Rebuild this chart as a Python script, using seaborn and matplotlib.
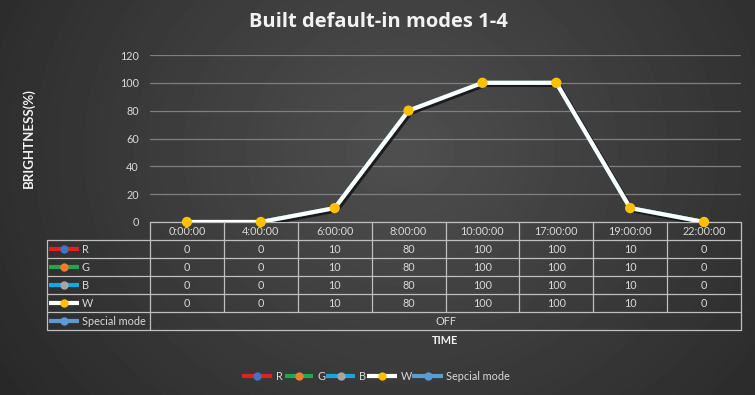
import numpy as np
import pandas as pd
import matplotlib
matplotlib.use("Agg")
import matplotlib.pyplot as plt
import matplotlib.patheffects as pe
import seaborn as sns

# ---- data ----
times = ["0:00:00", "4:00:00", "6:00:00", "8:00:00", "10:00:00", "17:00:00", "19:00:00", "22:00:00"]
r_vals = [0, 0, 10, 80, 100, 100, 10, 0]
g_vals = [0, 0, 10, 80, 100, 100, 10, 0]
b_vals = [0, 0, 10, 80, 100, 100, 10, 0]
w_vals = [0, 0, 10, 80, 100, 100, 10, 0]
special_label = "OFF"
series_names = ["R", "G", "B", "W"]
table_names = ["R", "G", "B", "W", "Special mode"]
legend_names = ["R", "G", "B", "W", "Sepcial mode"]
y_ticks = [0, 20, 40, 60, 80, 100, 120]

line_colors = {"R": "#E3201C", "G": "#1FA84F", "B": "#17A6DD", "W": "#FFFFFF", "S": "#5B9BD5"}
marker_colors = {"R": "#4472C4", "G": "#ED7D31", "B": "#A5A5A5", "W": "#FFC000", "S": "#5B9BD5"}
keys = ["R", "G", "B", "W", "S"]

sns.set_theme(style="dark")
plt.rcParams["font.family"] = ["Lato", "DejaVu Sans"]

W, H = 755, 395
fig = plt.figure(figsize=(W / 100, H / 100), dpi=100)

# background gradient
bg = fig.add_axes([0, 0, 1, 1])
yy, xx = np.mgrid[0:H, 0:W]
d = np.sqrt(((xx - 400) / 480.0) ** 2 + ((yy - 150) / 420.0) ** 2)
val = 0.31 - 0.15 * d
bg.imshow(np.clip(val, 0, 1), cmap="gray", vmin=0, vmax=1, extent=[0, W, H, 0], aspect="auto")
bg.set_xlim(0, W)
bg.set_ylim(H, 0)
bg.axis("off")

def fx(px):
    return px / W

def fy(py):
    return 1 - py / H

# plot axes
x0, x1 = 150, 741
y_top, y_bot = 55, 222
ax = fig.add_axes([fx(x0), fy(y_bot), (x1 - x0) / W, (y_bot - y_top) / H])
ax.set_facecolor("none")
df = pd.DataFrame({"time": np.arange(len(times))})
for name, vals in zip(series_names, [r_vals, g_vals, b_vals, w_vals]):
    df[name] = vals
long = df.melt(id_vars="time", var_name="series", value_name="value")
sns.lineplot(data=long, x="time", y="value", hue="series",
             palette={n: line_colors[n] for n in series_names},
             linewidth=3, legend=False, ax=ax, zorder=3,
             path_effects=[pe.SimpleLineShadow(offset=(1.5, -1.5), alpha=0.5), pe.Normal()])
sns.scatterplot(data=long[long.series == "W"], x="time", y="value", color=marker_colors["W"],
                s=55, edgecolor="none", ax=ax, zorder=4, legend=False, clip_on=False)
ax.set_xlim(-0.5, len(times) - 0.5)
ax.set_ylim(0, 120)
ax.set_yticks(y_ticks)
ax.set_yticklabels([str(t) for t in y_ticks], color="#D9D9D9", fontsize=7.8)
ax.set_xticks([])
ax.set_xlabel("")
ax.set_ylabel("")
ax.tick_params(axis="y", length=0, pad=8)
ax.grid(axis="y", color="#7F7F7F", linewidth=0.9)
ax.grid(axis="x", visible=False)
for s in ax.spines.values():
    s.set_visible(False)

# table drawn on bg axes (pixel coords)
tc = "#BFBFBF"
tx = "#D9D9D9"
fs = 7.8
lbl_x0 = 47
row_h = 18
ncol = len(times)
col_w = (x1 - x0) / ncol
rows_y = [y_bot + row_h * i for i in range(7)]  # 222 .. 330
lw = 0.9
bg.plot([x0, x1], [rows_y[0], rows_y[0]], color=tc, lw=lw)
for yv in rows_y[1:]:
    bg.plot([lbl_x0, x1], [yv, yv], color=tc, lw=lw)
for i in range(ncol + 1):
    xv = x0 + i * col_w
    if i in (0, ncol):
        bg.plot([xv, xv], [rows_y[0], rows_y[6]], color=tc, lw=lw)
    else:
        bg.plot([xv, xv], [rows_y[0], rows_y[5]], color=tc, lw=lw)
bg.plot([lbl_x0, lbl_x0], [rows_y[1], rows_y[6]], color=tc, lw=lw)

for i, t in enumerate(times):
    bg.text(x0 + (i + 0.5) * col_w, (rows_y[0] + rows_y[1]) / 2 + 0.5, t, color=tx,
            fontsize=fs, ha="center", va="center")
all_vals = [r_vals, g_vals, b_vals, w_vals]
for r, vals in enumerate(all_vals):
    yc = (rows_y[r + 1] + rows_y[r + 2]) / 2 + 0.5
    for i, v in enumerate(vals):
        bg.text(x0 + (i + 0.5) * col_w, yc, str(v), color=tx, fontsize=fs, ha="center", va="center")
bg.text((x0 + x1) / 2, (rows_y[5] + rows_y[6]) / 2 + 0.5, special_label, color=tx,
        fontsize=fs, ha="center", va="center")

def key(xa, xb, yc, k):
    bg.plot([xa, xb], [yc, yc], color=line_colors[k], lw=3, solid_capstyle="butt", zorder=5)
    bg.plot([(xa + xb) / 2], [yc], marker="o", ms=6, color=marker_colors[k], mec="none", zorder=6)

for r, (name, k) in enumerate(zip(table_names, keys)):
    yc = (rows_y[r + 1] + rows_y[r + 2]) / 2
    key(49, 79, yc, k)
    bg.text(82, yc + 0.5, name, color=tx, fontsize=fs, ha="left", va="center")

# bottom legend
leg_items = [(242, 272, 276), (285, 313, 317), (326, 355, 359), (367, 397, 401), (412, 443, 446)]
for (xa, xb, xt), name, k in zip(leg_items, legend_names, keys):
    key(xa, xb, 376, k)
    bg.text(xt, 376.5, name, color=tx, fontsize=fs, ha="left", va="center")

# titles
bg.text(378, 22, "Built default-in modes 1-4", color="#F2F2F2", fontsize=14.5,
        fontweight="bold", ha="center", va="center", family=["Open Sans", "DejaVu Sans"])
bg.text(29, 138, "BRIGHTNESS(%)", color="#F2F2F2", fontsize=9.5, fontweight="bold",
        rotation=90, ha="center", va="center")
bg.text(445, 341, "TIME", color="#F2F2F2", fontsize=7.8, fontweight="bold",
        ha="center", va="center")

fig.savefig("out.png", dpi=100)
